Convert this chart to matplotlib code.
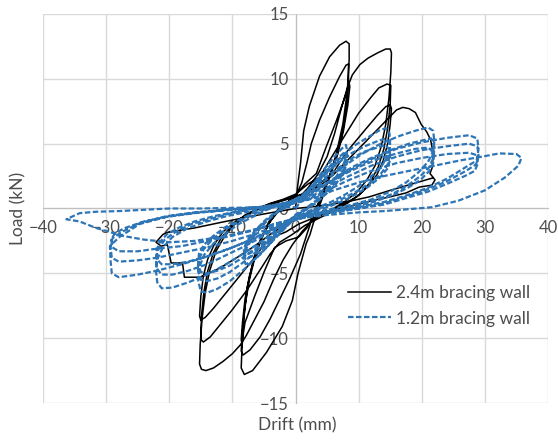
import numpy as np
import matplotlib.pyplot as plt

# 2.4 m bracing wall, (drift mm, load kN) traced per amplitude group
w24_8mm = [
    (0.0, 0.0), (0.3, 1.6), (0.8, 3.5), (1.3, 6.0), (2.2, 7.9), (3.8, 10.2), (5.4, 11.7), (7.0, 12.6), (8.0, 12.9), (8.5, 12.7),
    (8.5, 11.5), (8.2, 9.0), (7.5, 6.5), (6.5, 4.3), (5.4, 2.5), (4.4, 1.0), (3.5, -0.2), (2.9, -1.0), (2.3, -2.0),
    (1.7, -2.7), (0.4, -5.0), (-0.5, -7.1), (-2.1, -9.1), (-4.6, -11.1), (-6.8, -12.5), (-8.1, -12.8), (-8.6, -12.3),
    (-8.5, -11.0), (-8.2, -8.5), (-7.6, -6.0), (-6.6, -3.8), (-5.4, -2.2), (-4.2, -1.0), (-3.0, -0.2), (-1.5, 0.4),
    (0.0, 0.9), (1.0, 2.0), (1.8, 3.5), (2.5, 5.0), (3.8, 6.8), (5.4, 8.6), (7.0, 10.2), (8.0, 11.05), (8.4, 11.15),
    (8.4, 10.0), (8.1, 8.0), (7.5, 6.0), (6.6, 4.2), (5.6, 2.8), (4.5, 1.5), (3.5, 0.3), (2.6, -0.8), (1.8, -2.0),
    (0.8, -3.5), (-1.0, -5.5), (-2.5, -7.0), (-4.0, -8.5), (-5.6, -9.9), (-7.2, -10.9), (-8.3, -11.3), (-8.6, -11.0),
    (-8.4, -9.5), (-8.0, -7.5), (-7.3, -5.5), (-6.4, -3.7), (-5.3, -2.2), (-4.0, -1.0), (-2.8, -0.1), (-1.5, 0.4),
    (0.0, 1.0), (1.5, 1.9), (3.3, 2.7), (4.9, 4.8), (6.5, 6.8), (8.0, 8.8), (8.5, 9.7), (8.6, 9.4),
    (8.3, 8.0), (7.6, 6.0), (6.7, 4.2), (5.7, 2.8), (4.6, 1.5), (3.6, 0.3), (2.7, -0.7), (1.8, -1.5),
    (0.5, -2.2), (-1.5, -2.5), (-3.3, -3.0), (-4.9, -4.8), (-6.5, -6.8), (-8.0, -8.8), (-8.5, -10.4), (-8.6, -10.1),
    (-8.4, -8.8), (-8.0, -7.0), (-7.3, -5.2), (-6.3, -3.5), (-5.2, -2.1), (-4.0, -1.0), (-2.5, -0.1), (-1.0, 0.4),
]
w24_15mm = [
    (0.5, 0.8), (2.0, 1.6), (3.5, 2.6), (5.0, 4.0), (6.2, 5.8), (7.3, 7.8), (8.2, 9.3), (9.0, 10.3), (10.2, 11.1),
    (11.5, 11.6), (13.0, 12.0), (14.3, 12.3), (15.0, 12.3), (15.2, 12.0),
    (15.1, 10.5), (14.8, 8.5), (14.3, 6.5), (13.6, 4.8), (12.6, 3.3), (11.3, 2.2), (9.8, 1.3), (8.0, 0.6), (6.0, 0.0),
    (4.0, -0.5), (2.5, -1.0),
    (1.0, -1.8), (-0.5, -2.8), (-2.0, -4.0), (-3.5, -5.5), (-5.0, -7.2), (-6.5, -8.6), (-7.8, -9.8), (-8.7, -10.5),
    (-10.0, -11.2), (-11.5, -11.8), (-13.0, -12.3), (-14.2, -12.5), (-14.9, -12.4), (-15.2, -12.0),
    (-15.1, -10.5), (-14.8, -8.5), (-14.3, -6.5), (-13.6, -4.8), (-12.6, -3.3), (-11.3, -2.2), (-9.8, -1.3),
    (-8.0, -0.6), (-6.0, 0.0), (-4.0, 0.4), (-2.0, 0.7),
    (0.0, 1.1), (2.0, 1.9), (3.8, 2.4), (5.4, 3.7), (7.4, 5.3), (10.0, 7.35), (12.0, 8.6), (13.2, 9.3), (14.5, 9.6), (15.1, 9.5),
    (15.0, 8.0), (14.6, 6.2), (14.0, 4.6), (13.1, 3.2), (11.8, 2.0), (10.2, 1.1), (8.2, 0.4), (6.0, -0.2), (3.5, -0.8), (1.5, -1.3),
    (-0.5, -2.0), (-2.5, -2.6), (-4.0, -3.5), (-5.7, -4.8), (-7.7, -6.3), (-10.0, -7.8), (-12.0, -9.0), (-13.5, -9.9),
    (-14.6, -10.3), (-15.0, -10.1),
    (-14.9, -8.3), (-14.5, -6.4), (-13.9, -4.8), (-13.0, -3.4), (-11.7, -2.2), (-10.0, -1.3), (-8.0, -0.5), (-5.5, 0.1),
    (-3.0, 0.5), (-1.0, 0.8),
    (1.0, 1.1), (3.0, 1.6), (4.5, 2.2), (5.9, 2.7), (8.0, 4.3), (11.0, 6.05), (13.0, 7.2), (14.3, 7.85), (15.0, 8.0), (15.2, 7.7),
    (15.0, 6.5), (14.6, 5.0), (13.9, 3.7), (12.9, 2.6), (11.5, 1.7), (9.7, 0.9), (7.5, 0.3), (5.0, -0.3), (2.5, -0.8), (0.5, -1.2),
    (-1.5, -1.8), (-3.5, -2.2), (-5.0, -2.8), (-6.5, -3.8), (-8.5, -5.0), (-11.0, -6.5), (-13.0, -7.7), (-14.3, -8.4),
    (-15.0, -8.6), (-15.2, -8.3),
    (-15.0, -6.8), (-14.6, -5.2), (-13.9, -3.9), (-12.9, -2.8), (-11.5, -1.8), (-9.5, -1.0), (-7.0, -0.3), (-4.5, 0.2),
    (-2.0, 0.6), (0.0, 0.9),
]
w24_22mm = [
    (2.0, 1.2), (4.0, 1.8), (6.0, 2.6), (8.0, 3.6), (10.0, 4.6), (12.0, 5.6), (13.8, 6.5), (15.0, 7.1), (16.0, 7.6),
    (17.0, 7.8), (18.0, 7.7), (19.0, 7.4), (19.9, 6.5), (20.8, 5.9), (21.4, 5.3), (21.8, 4.3), (21.7, 3.2), (21.3, 2.7),
    (21.8, 2.4), (22.1, 2.2),
    (21.6, 1.8), (19.6, 1.65), (17.5, 1.2), (15.0, 0.9), (12.0, 0.6), (9.6, 0.3), (7.0, 0.0), (4.0, -0.3), (1.0, -0.6),
    (-1.5, -1.2), (-4.0, -2.0), (-6.5, -2.9), (-9.0, -3.7), (-12.0, -4.6), (-15.2, -5.3),
    (-17.6, -5.3), (-17.9, -4.2), (-19.7, -4.2), (-20.3, -2.8), (-21.3, -2.9), (-22.1, -2.6),
    (-21.0, -2.0), (-20.0, -1.8), (-16.0, -1.5), (-11.6, -1.05), (-7.0, -0.6), (-3.6, -0.3), (0.0, 0.0),
    (4.0, 0.2), (8.0, 0.5), (11.7, 0.9), (15.0, 1.4), (18.5, 1.9), (21.7, 2.35),
]

# 1.2 m bracing wall
w12_8mm = [
    (0.0, 0.0), (1.5, 1.0), (3.0, 2.0), (4.5, 3.0), (6.0, 3.9), (7.3, 4.6), (8.0, 4.9), (8.2, 4.4), (7.7, 3.5),
    (6.4, 2.4), (4.8, 1.4), (3.2, 0.6), (1.6, 0.0), (0.2, -0.4),
    (-1.2, -1.0), (-2.7, -1.9), (-4.2, -2.8), (-5.7, -3.6), (-7.0, -4.1), (-7.9, -4.3), (-8.2, -3.9), (-7.7, -3.0),
    (-6.4, -2.0), (-4.8, -1.1), (-3.2, -0.4), (-1.6, 0.1), (-0.2, 0.5),
    (1.2, 1.0), (2.7, 1.8), (4.2, 2.6), (5.7, 3.4), (7.0, 4.0), (7.9, 4.4), (8.2, 4.0), (7.7, 3.1), (6.4, 2.1),
    (4.8, 1.2), (3.2, 0.5), (1.6, -0.1), (0.2, -0.5),
    (-1.2, -1.0), (-2.7, -1.8), (-4.2, -2.6), (-5.7, -3.3), (-7.0, -3.7), (-7.9, -3.9), (-8.2, -3.5), (-7.7, -2.7),
    (-6.4, -1.8), (-4.8, -1.0), (-3.2, -0.4), (-1.6, 0.1), (-0.2, 0.5),
    (1.2, 0.9), (2.7, 1.6), (4.2, 2.4), (5.7, 3.1), (7.0, 3.7), (7.9, 4.0), (8.2, 3.6), (7.7, 2.8), (6.4, 1.9),
    (4.8, 1.1), (3.2, 0.4), (1.6, -0.1), (0.2, -0.5),
    (-1.2, -1.0), (-2.7, -1.7), (-4.2, -2.4), (-5.7, -3.0), (-7.0, -3.4), (-7.9, -3.6), (-8.2, -3.2), (-7.7, -2.5),
    (-6.4, -1.7), (-4.8, -0.9), (-3.2, -0.3), (-1.6, 0.2), (0.0, 0.5),
]
w12_15mm = [
    (1.5, 1.1), (3.5, 2.2), (5.5, 3.2), (7.5, 4.1), (9.5, 4.9), (11.5, 5.5), (13.2, 6.0), (14.3, 6.2), (14.9, 5.8),
    (15.0, 4.9), (14.6, 4.0), (13.4, 3.1), (11.6, 2.3), (9.6, 1.6), (7.6, 1.0), (5.6, 0.5), (3.6, 0.1), (1.6, -0.3),
    (-0.4, -0.9), (-2.4, -1.9), (-4.4, -2.9), (-6.4, -3.9), (-8.4, -4.8), (-10.4, -5.6), (-12.4, -6.2), (-14.0, -6.5),
    (-15.0, -6.4), (-15.4, -5.6), (-15.3, -4.6), (-14.5, -3.6), (-13.0, -2.7), (-11.0, -1.9), (-9.0, -1.2), (-7.0, -0.7),
    (-5.0, -0.2), (-3.0, 0.2), (-1.0, 0.5),
    (1.0, 1.0), (3.0, 1.9), (5.0, 2.8), (7.0, 3.6), (9.0, 4.3), (11.0, 4.8), (13.0, 5.2), (14.3, 5.4), (14.9, 5.0),
    (15.0, 4.2), (14.6, 3.4), (13.4, 2.6), (11.6, 1.9), (9.6, 1.3), (7.6, 0.8), (5.6, 0.3), (3.6, 0.0), (1.6, -0.4),
    (-0.4, -0.9), (-2.4, -1.8), (-4.4, -2.6), (-6.4, -3.4), (-8.4, -4.2), (-10.4, -4.9), (-12.4, -5.4), (-14.0, -5.6),
    (-15.0, -5.5), (-15.4, -4.8), (-15.3, -3.9), (-14.5, -3.1), (-13.0, -2.3), (-11.0, -1.6), (-9.0, -1.0), (-7.0, -0.5),
    (-5.0, -0.1), (-3.0, 0.2), (-1.0, 0.5),
    (1.0, 0.9), (3.0, 1.7), (5.0, 2.5), (7.0, 3.2), (9.0, 3.9), (11.0, 4.4), (13.0, 4.7), (14.3, 4.9), (14.9, 4.5),
    (15.0, 3.8), (14.6, 3.1), (13.4, 2.4), (11.6, 1.7), (9.6, 1.1), (7.6, 0.6), (5.6, 0.2), (3.6, -0.1), (1.6, -0.4),
    (-0.4, -0.9), (-2.4, -1.6), (-4.4, -2.4), (-6.4, -3.1), (-8.4, -3.8), (-10.4, -4.4), (-12.4, -4.8), (-14.0, -5.0),
    (-15.0, -4.9), (-15.4, -4.3), (-15.3, -3.5), (-14.5, -2.8), (-13.0, -2.1), (-11.0, -1.4), (-9.0, -0.9), (-7.0, -0.4),
    (-5.0, 0.0), (-3.0, 0.3), (-1.0, 0.5),
]
w12_22mm = [
    (1.5, 0.9), (4.5, 2.1), (7.5, 3.2), (10.5, 4.2), (13.5, 5.0), (16.5, 5.6), (19.0, 6.0), (21.0, 6.25), (21.8, 6.0),
    (22.0, 5.2), (21.8, 4.4), (21.0, 3.6), (19.5, 2.8), (17.5, 2.0), (15.0, 1.3), (12.0, 0.7), (9.0, 0.3), (6.0, 0.0),
    (3.0, -0.3), (0.5, -0.6),
    (-2.0, -1.3), (-5.0, -2.4), (-8.0, -3.4), (-11.0, -4.3), (-14.0, -5.1), (-17.0, -5.7), (-19.5, -6.1), (-21.2, -6.15),
    (-21.9, -5.7), (-22.1, -4.8), (-21.9, -3.9), (-21.0, -3.0), (-19.5, -2.2), (-17.0, -1.5), (-14.0, -1.0),
    (-11.0, -0.6), (-8.0, -0.3), (-5.0, 0.0), (-2.0, 0.3), (0.5, 0.6),
    (3.0, 1.4), (6.0, 2.3), (9.0, 3.2), (12.0, 3.9), (15.0, 4.5), (18.0, 5.0), (20.5, 5.3), (21.5, 5.4), (22.0, 4.8),
    (21.9, 4.0), (21.2, 3.2), (19.8, 2.5), (17.8, 1.8), (15.3, 1.1), (12.3, 0.6), (9.3, 0.2), (6.3, -0.1), (3.3, -0.4),
    (0.5, -0.7),
    (-2.0, -1.2), (-5.0, -2.1), (-8.0, -2.9), (-11.0, -3.6), (-14.0, -4.3), (-17.0, -4.8), (-19.5, -5.1), (-21.2, -5.1),
    (-22.0, -4.6), (-22.1, -3.8), (-21.7, -3.1), (-20.7, -2.4), (-19.0, -1.8), (-16.5, -1.2), (-13.5, -0.8),
    (-10.5, -0.4), (-7.5, -0.1), (-4.5, 0.2), (-1.5, 0.4),
    (1.5, 0.9), (4.5, 1.8), (7.5, 2.6), (10.5, 3.3), (13.5, 3.9), (16.5, 4.3), (19.0, 4.6), (21.0, 4.7), (21.9, 4.3),
    (21.9, 3.6), (21.2, 2.9), (19.8, 2.2), (17.8, 1.6), (15.3, 1.0), (12.3, 0.5), (9.3, 0.1), (6.3, -0.2), (3.3, -0.5),
    (0.5, -0.8),
    (-2.0, -1.2), (-5.0, -1.9), (-8.0, -2.6), (-11.0, -3.2), (-14.0, -3.7), (-17.0, -4.1), (-19.5, -4.3), (-21.2, -4.3),
    (-22.0, -3.9), (-22.0, -3.2), (-21.5, -2.6), (-20.4, -2.0), (-18.6, -1.5), (-16.0, -1.0), (-13.0, -0.6),
    (-10.0, -0.3), (-7.0, 0.0), (-4.0, 0.2), (-1.0, 0.4),
]
w12_29mm = [
    (2.0, 0.9), (5.0, 1.9), (8.0, 2.8), (12.0, 3.8), (16.0, 4.6), (20.0, 5.1), (24.0, 5.45), (27.5, 5.65), (28.8, 5.4),
    (29.0, 4.6), (28.7, 3.7), (27.0, 3.2), (24.0, 2.3), (21.0, 1.6), (17.5, 1.0), (14.0, 0.5), (10.0, 0.1), (6.0, -0.2),
    (2.0, -0.5),
    (-2.0, -1.2), (-6.0, -2.2), (-10.0, -3.0), (-14.0, -3.7), (-18.0, -4.3), (-22.0, -4.8), (-25.0, -5.1), (-28.0, -5.3),
    (-29.1, -5.0), (-29.3, -4.0), (-29.4, -2.9), (-27.9, -2.2), (-24.7, -1.2), (-20.5, -0.65), (-16.0, -0.35),
    (-11.0, -0.1), (-6.0, 0.1), (-2.0, 0.3),
    (2.0, 0.8), (5.0, 1.6), (8.0, 2.4), (12.0, 3.3), (16.0, 4.0), (20.0, 4.5), (24.0, 4.8), (27.5, 5.0), (28.8, 4.8),
    (29.0, 4.1), (28.6, 3.4), (27.0, 2.9), (24.0, 2.1), (21.0, 1.5), (17.5, 0.9), (14.0, 0.4), (10.0, 0.0), (6.0, -0.3),
    (2.0, -0.6),
    (-2.0, -1.1), (-6.0, -1.9), (-10.0, -2.5), (-14.0, -3.0), (-18.0, -3.4), (-22.0, -3.8), (-25.0, -4.0), (-28.0, -4.1),
    (-29.1, -3.8), (-29.3, -3.0), (-29.0, -2.3), (-27.5, -1.8), (-24.5, -1.1), (-20.5, -0.6), (-16.0, -0.3),
    (-11.0, -0.1), (-6.0, 0.1), (-2.0, 0.3),
    (2.0, 0.7), (5.0, 1.4), (8.0, 2.1), (12.0, 2.9), (16.0, 3.5), (20.0, 3.9), (24.0, 4.2), (27.5, 4.3), (28.8, 4.1),
    (28.9, 3.5), (28.4, 2.9), (26.8, 2.5), (24.0, 1.9), (21.0, 1.3), (17.5, 0.8), (14.0, 0.3), (10.0, 0.0), (6.0, -0.3),
    (2.0, -0.6),
    (-2.0, -1.0), (-6.0, -1.6), (-10.0, -2.1), (-14.0, -2.5), (-18.0, -2.9), (-22.0, -3.1), (-25.0, -3.3), (-28.0, -3.3),
    (-29.0, -3.0), (-29.2, -2.4), (-28.6, -1.9), (-27.0, -1.5), (-24.0, -1.0), (-20.0, -0.6), (-15.0, -0.3),
    (-10.0, -0.1), (-5.0, 0.1), (-1.0, 0.3),
]
w12_36mm = [
    (3.0, 0.8), (6.0, 1.4), (10.0, 2.0), (14.0, 2.5), (18.0, 2.9), (22.0, 3.3), (26.0, 3.7), (29.0, 3.95), (32.3, 4.25),
    (35.0, 4.2), (35.8, 3.9), (35.3, 3.3), (33.2, 2.4), (30.0, 1.4), (25.8, 0.6), (21.6, 0.1), (18.0, -0.05),
    (14.0, -0.2), (10.0, -0.3), (5.0, -0.5), (0.0, -0.8),
    (-4.0, -1.3), (-8.0, -1.8), (-12.0, -2.2), (-16.0, -2.5), (-20.0, -2.6), (-24.0, -2.4), (-27.5, -2.1), (-29.5, -1.8),
    (-31.6, -1.5), (-34.2, -1.0), (-36.3, -0.83), (-34.2, -0.36), (-31.6, -0.25), (-28.0, -0.2), (-24.0, -0.1),
    (-20.0, 0.0), (-15.0, 0.0), (-10.0, 0.05), (-5.0, 0.1), (0.0, 0.1),
]

wall24 = np.array(w24_8mm + w24_15mm + w24_22mm)
wall12 = np.array(w12_8mm + w12_15mm + w12_22mm + w12_29mm + w12_36mm)

plt.rcParams['font.family'] = ['Lato', 'DejaVu Sans']
grey = '#4d4d4d'

fig = plt.figure(figsize=(5.58, 4.41), dpi=100)
ax = fig.add_axes([43 / 558, 38 / 441, 505 / 558, 389 / 441])

ax.plot(wall24[:, 0], wall24[:, 1], color='black', lw=1.1, label='2.4m bracing wall', zorder=3)
ax.plot(wall12[:, 0], wall12[:, 1], color='#2e75b6', lw=1.6, ls=(0, (2.5, 1.1)),
        label='1.2m bracing wall', zorder=4)

ax.set_xlim(-40, 40)
ax.set_ylim(-15, 15)
ax.set_xticks(range(-40, 41, 10))
ax.set_yticks(range(-15, 16, 5))
ax.grid(color='#d9d9d9', lw=1)
ax.set_axisbelow(True)
for s in ['top', 'right']:
    ax.spines[s].set_visible(False)
for s in ['left', 'bottom']:
    ax.spines[s].set_position('zero')
    ax.spines[s].set_color('#bfbfbf')
    ax.spines[s].set_zorder(1)
ax.tick_params(length=0, labelsize=12, labelcolor=grey)
ax.tick_params(axis='x', pad=8)
ax.tick_params(axis='y', pad=5)

fig.text(297 / 558, 1 - 425 / 441, 'Drift (mm)', ha='center', va='center', fontsize=12.5, color=grey)
fig.text(18 / 558, 1 - 208 / 441, 'Load (kN)', ha='center', va='center', rotation=90, fontsize=12.5, color=grey)

ax.legend(loc='upper left', bbox_to_anchor=(348 / 558, 1 - 285 / 441), bbox_transform=fig.transFigure,
          frameon=False, fontsize=12.5, handlelength=2.5, handletextpad=0.25, labelspacing=0.55,
          borderpad=0, borderaxespad=0, labelcolor=grey)

fig.savefig('out.png', dpi=100)
